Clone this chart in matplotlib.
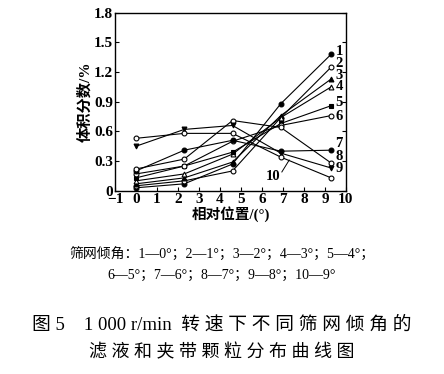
import matplotlib
matplotlib.use("Agg")
import matplotlib.pyplot as plt

plt.rcParams['font.family'] = ['Liberation Serif', 'Noto Sans CJK SC']

x_pos = [0, 2.3, 4.6, 6.9, 9.3]
labels = ['1', '2', '3', '4', '5', '6', '7', '8', '9', '10']
s1 = [0.03, 0.07, 0.27, 0.88, 1.38]
s2 = [0.05, 0.10, 0.20, 0.74, 1.25]
s3 = [0.07, 0.13, 0.29, 0.76, 1.13]
s4 = [0.10, 0.17, 0.37, 0.74, 1.05]
s5 = [0.13, 0.25, 0.39, 0.68, 0.86]
s6 = [0.17, 0.25, 0.50, 0.66, 0.76]
s7 = [0.20, 0.41, 0.51, 0.40, 0.41]
s8 = [0.22, 0.32, 0.71, 0.64, 0.28]
s9 = [0.45, 0.62, 0.66, 0.38, 0.23]
s10 = [0.53, 0.58, 0.58, 0.34, 0.13]
series = [s1, s2, s3, s4, s5, s6, s7, s8, s9, s10]
markers = ['o', 'o', '^', '^', 's', 'o', 'o', 'o', 'v', 'o']
filled = [True, False, True, False, True, False, True, False, True, False]
label_y = [1.41, 1.29, 1.17, 1.05, 0.89, 0.75, 0.48, 0.35, 0.22]

fig = plt.figure(figsize=(4.44, 3.74), dpi=100)
ax = fig.add_axes([0.259, 0.49, 0.52, 0.476])

for s, m, f in zip(series, markers, filled):
    ax.plot(x_pos, s, color='black', lw=0.8, marker=m, ms=3.5,
            mfc='black' if f else 'white', mec='black', mew=0.8)
for lab, ly in zip(labels[:9], label_y):
    ax.text(9.5, ly, lab, fontsize=10.5, va='center', ha='left', fontweight='bold')

ax.text(6.2, 0.14, '10', fontsize=10.5, va='center', ha='left', fontweight='bold')
ax.plot([6.95, 7.3], [0.19, 0.31], color='black', lw=0.7)

ax.set_xlim(-1, 10)
ax.set_ylim(0, 1.8)
ax.set_xticks(range(-1, 11))
ax.set_xticklabels(['\u22121'] + [str(i) for i in range(0, 11)])
ax.set_yticks([0, 0.3, 0.6, 0.9, 1.2, 1.5, 1.8])
ax.set_yticklabels(['0', '0.3', '0.6', '0.9', '1.2', '1.5', '1.8'])
ax.tick_params(direction='in', labelsize=11, length=3, pad=1.5, top=False, right=True)
for lbl in ax.get_xticklabels() + ax.get_yticklabels():
    lbl.set_fontweight('bold')
for sp in ax.spines.values():
    sp.set_linewidth(1.0)

ax.set_ylabel('体积分数/%', fontsize=11, fontweight='bold', labelpad=1)
ax.set_xlabel('相对位置/(°)', fontsize=10.5, fontweight='bold', labelpad=0)

fig.text(0.5, 0.318, '筛网倾角：1—0°；2—1°；3—2°；4—3°；5—4°；', ha='center', va='center', fontsize=10)
fig.text(0.5, 0.263, '6—5°；7—6°；8—7°；9—8°；10—9°', ha='center', va='center', fontsize=10)
fig.text(0.5, 0.131, '图 5    1 000 r/min  转 速 下 不 同 筛 网 倾 角 的', ha='center', va='center', fontsize=13.5)
fig.text(0.5, 0.058, '滤 液 和 夹 带 颗 粒 分 布 曲 线 图', ha='center', va='center', fontsize=13)

fig.savefig('out.png', dpi=100)
